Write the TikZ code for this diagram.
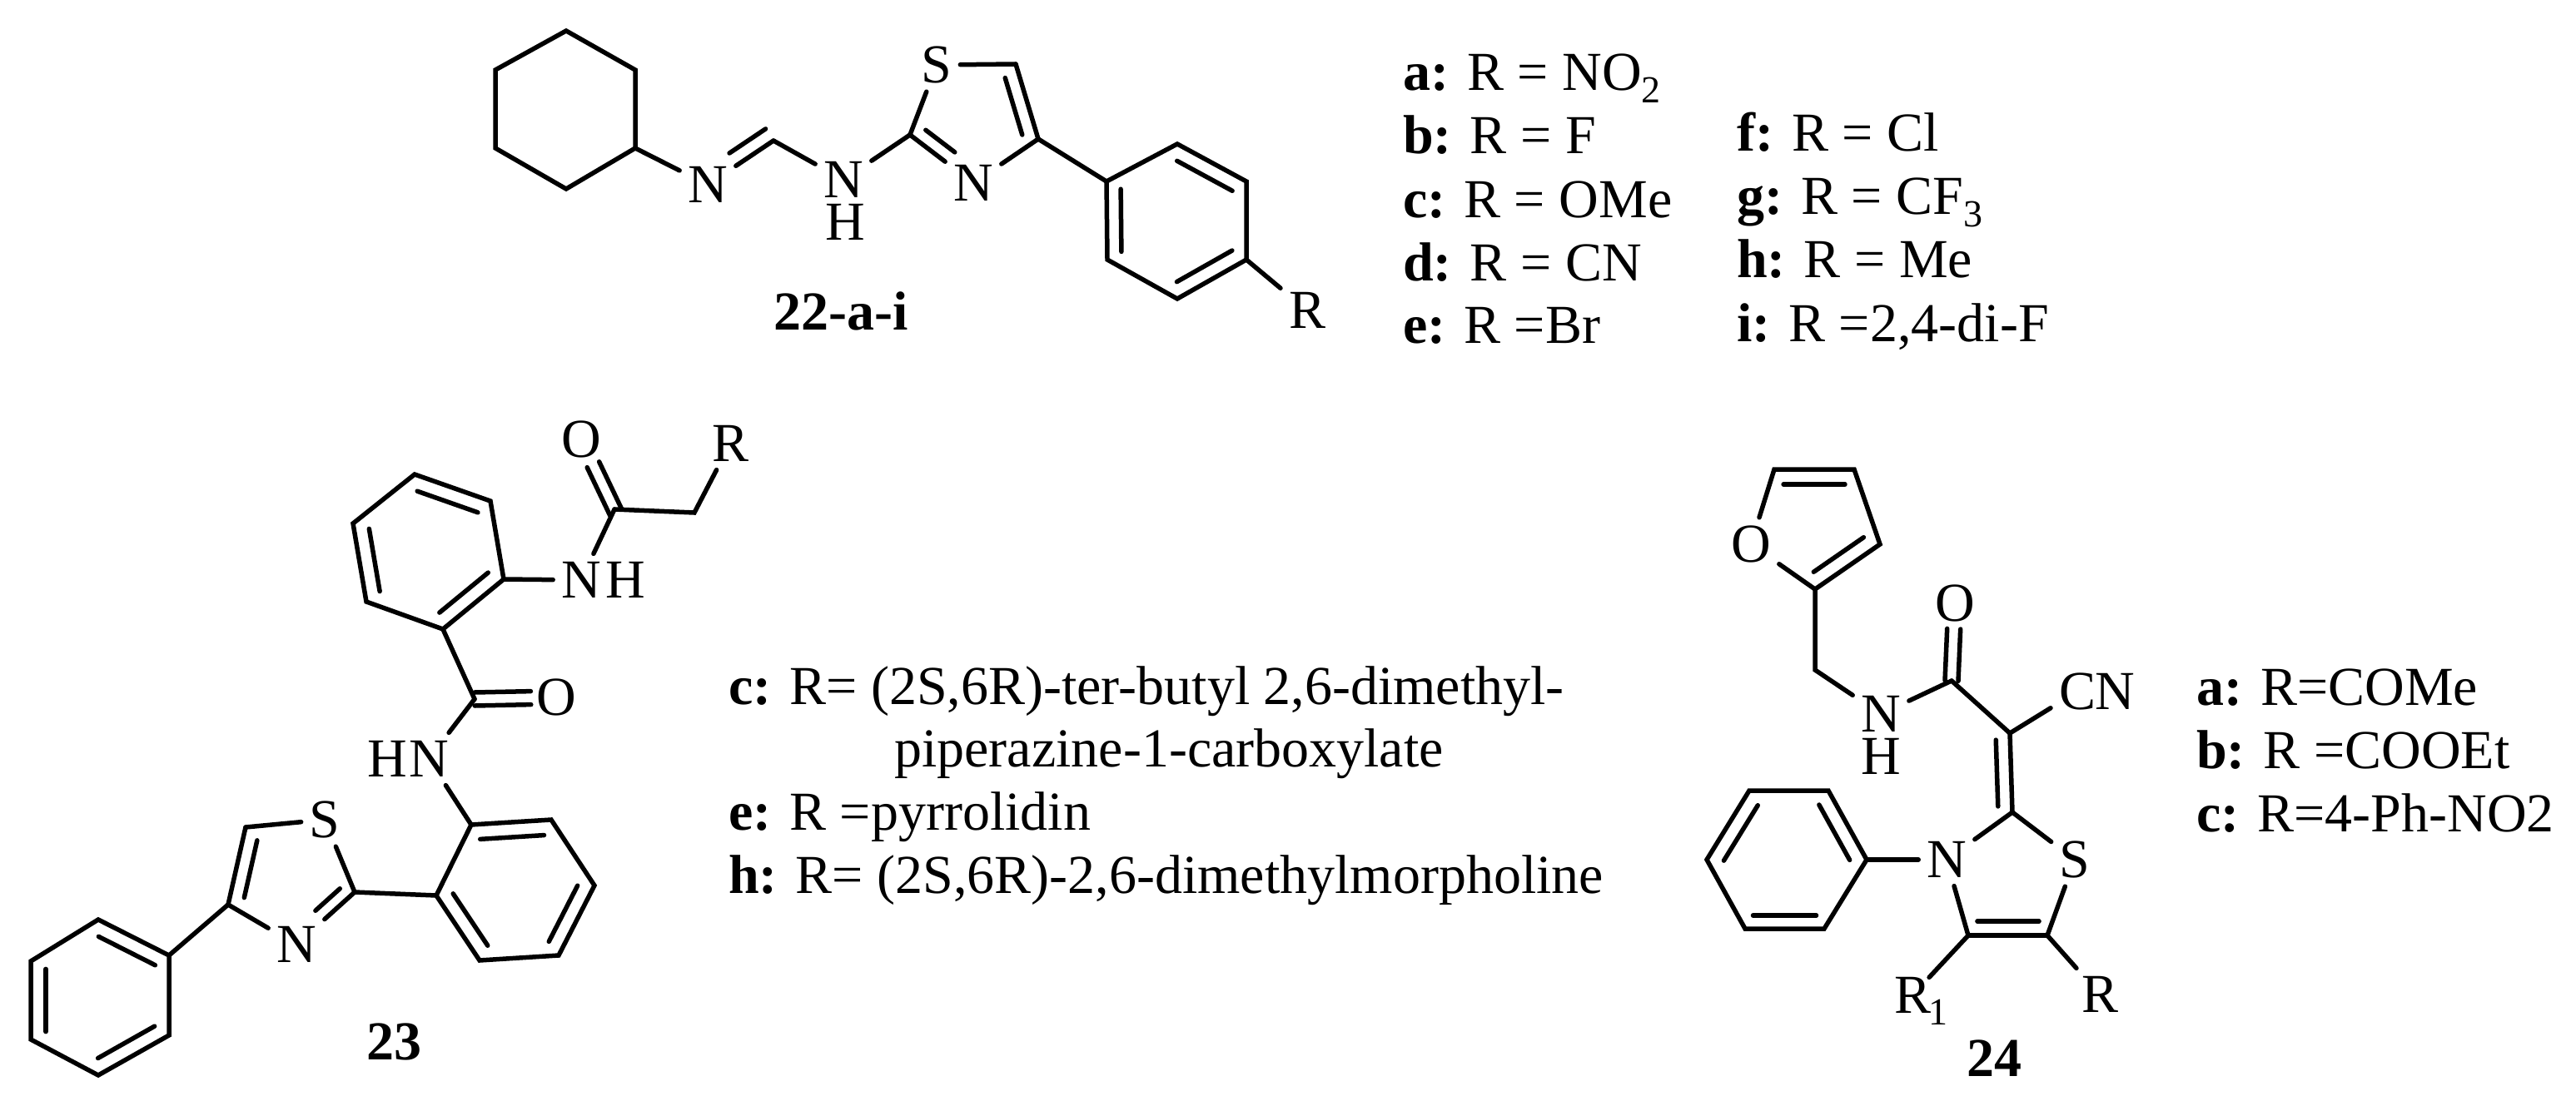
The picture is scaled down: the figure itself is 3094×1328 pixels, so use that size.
\documentclass[tikz,border=0pt]{standalone}
\usepackage{fontspec}
\setmainfont{Liberation Serif}
\usetikzlibrary{calc}
\tikzset{
  bond/.style={draw=black,line width=5.5pt,line cap=round,line join=miter},
  atom/.style={shape=rectangle,inner sep=10pt,outer sep=0pt,font=\fontsize{66}{72}\selectfont},
  tight/.style={atom,inner sep=0pt},
  txt/.style={anchor=base west,inner sep=0pt,font=\fontsize{66}{72}\selectfont},
  num/.style={anchor=base,inner sep=0pt,font=\fontsize{66}{72}\selectfont\bfseries},
}
\newcommand\inb[5]{\draw[bond] ($(#1)!#3!(#2)!#5pt!270:(#2)$) -- ($(#1)!#4!(#2)!#5pt!270:(#2)$);}
\newcommand\subs[1]{\raisebox{-15pt}{\fontsize{46}{50}\selectfont #1}}
\begin{document}
\begin{tikzpicture}[x=1pt,y=-1pt]
\useasboundingbox (0,0) rectangle (3094,1328);
\fill[white] (0,0) rectangle (3094,1328);
% ---------- 22
\coordinate (h1) at (680,37); \coordinate (h2) at (763,84); \coordinate (h3) at (763,178);
\coordinate (h4) at (680,227); \coordinate (h5) at (595,178); \coordinate (h6) at (595,84);
\draw[bond] (h1)--(h2)--(h3)--(h4)--(h5)--(h6)--cycle;
\node[atom] (An1) at (850,222) {N};
\node[atom] (An2) at (1013,216) {N};
\node[tight] (Ah) at (1015,267) {H};
\node[atom] (As) at (1125,78) {S};
\node[atom] (An3) at (1169,220) {N};
\node[atom] (Ar) at (1570,373) {R};
\coordinate (Ach) at (929,169); \coordinate (Ac2) at (1093,162);
\coordinate (Ac5) at (1220,77); \coordinate (Ac4) at (1247,167);
\coordinate (p1) at (1329,218); \coordinate (p2) at (1414,173); \coordinate (p3) at (1497,218);
\coordinate (p4) at (1497,312); \coordinate (p5) at (1414,359); \coordinate (p6) at (1330,312);
\draw[bond] (h3)--(An1);
\draw[bond] (An1)--(Ach);
\inb{Ach}{An1}{0}{.55}{17}
\draw[bond] (Ach)--(An2);
\draw[bond] (An2)--(Ac2);
\draw[bond] (Ac2)--(As);
\draw[bond] (As)--(Ac5);
\draw[bond] (Ac5)--(Ac4);
\inb{Ac5}{Ac4}{.13}{.89}{17}
\draw[bond] (Ac2)--(An3);
\inb{Ac2}{An3}{.12}{.58}{-16}
\draw[bond] (An3)--(Ac4);
\draw[bond] (Ac4)--(p1);
\draw[bond] (p1)--(p2)--(p3)--(p4)--(p5)--(p6)--cycle;
\inb{p2}{p3}{.1}{.9}{18}
\inb{p4}{p5}{.1}{.9}{18}
\inb{p6}{p1}{.1}{.9}{17}
\draw[bond] (p4)--(Ar);
\node[num] (L22) at (1010,396) {22-a-i};
% list 22
\node[txt] (la) at (1685,108) {\textbf{a:} R = NO\subs{2}};
\node[txt] (lb) at (1685,184) {\textbf{b:} R = F};
\node[txt] (lc) at (1685,261) {\textbf{c:} R = OMe};
\node[txt] (ld) at (1685,337) {\textbf{d:} R = CN};
\node[txt] (le) at (1685,412) {\textbf{e:} R =Br};
\node[txt] (lf) at (2086,181) {\textbf{f:} R = Cl};
\node[txt] (lg) at (2086,257) {\textbf{g:} R = CF\subs{3}};
\node[txt] (lh) at (2086,333) {\textbf{h:} R = Me};
\node[txt] (li) at (2086,410) {\textbf{i:} R =2,4-di-F};
% ---------- 23
\coordinate (a1) at (498,570); \coordinate (a2) at (589,602); \coordinate (a3) at (605,696);
\coordinate (a4) at (532,756); \coordinate (a5) at (440,723); \coordinate (a6) at (424,629);
\draw[bond] (a1)--(a2)--(a3)--(a4)--(a5)--(a6)--cycle;
\inb{a1}{a2}{.1}{.9}{18}
\inb{a3}{a4}{.1}{.9}{18}
\inb{a5}{a6}{.1}{.9}{18}
\node[atom] (Bn1) at (698,697) {N};
\node[tight] (Bh1) at (751,697) {H};
\node[atom] (Bo1) at (698,528) {O};
\node[atom] (Br) at (877,533) {R};
\coordinate (Bc1) at (738,612); \coordinate (Bc2) at (834,616);
\draw[bond] (a3)--(Bn1);
\draw[bond] (Bn1)--(Bc1);
\inb{Bc1}{Bo1}{-.03}{.64}{8}
\inb{Bc1}{Bo1}{-.05}{.64}{-8}
\draw[bond] (Bc1)--(Bc2)--(Br);
\coordinate (Bc3) at (570,840);
\node[atom] (Bo2) at (668,838) {O};
\node[atom] (Bn2) at (515,912) {N};
\node[tight] (Bh2) at (465,912) {H};
\draw[bond] (a4)--(Bc3);
\inb{Bc3}{Bo2}{0}{.69}{8}
\inb{Bc3}{Bo2}{0}{.69}{-8}
\draw[bond] (Bc3)--(Bn2);
\coordinate (b1) at (566,991); \coordinate (b2) at (662,985); \coordinate (b3) at (714,1064);
\coordinate (b4) at (671,1148); \coordinate (b5) at (576,1154); \coordinate (b6) at (524,1076);
\draw[bond] (b1)--(b2)--(b3)--(b4)--(b5)--(b6)--cycle;
\inb{b1}{b2}{.1}{.9}{18}
\inb{b3}{b4}{.1}{.9}{18}
\inb{b5}{b6}{.1}{.9}{18}
\draw[bond] (Bn2)--(b1);
\coordinate (Bt2) at (426,1072); \coordinate (Bt5) at (295,994); \coordinate (Bt4) at (274,1087);
\node[atom] (Bs) at (390,985) {S};
\node[atom] (Bn3) at (356,1135) {N};
\draw[bond] (b6)--(Bt2);
\draw[bond] (Bt2)--(Bs);
\draw[bond] (Bs)--(Bt5);
\draw[bond] (Bt5)--(Bt4);
\inb{Bt5}{Bt4}{.13}{.87}{-17}
\draw[bond] (Bt4)--(Bn3);
\draw[bond] (Bn3)--(Bt2);
\inb{Bt2}{Bn3}{.11}{.53}{15}
\coordinate (f1) at (203,1148); \coordinate (f2) at (203,1244); \coordinate (f3) at (118,1292);
\coordinate (f4) at (37,1249); \coordinate (f5) at (37,1155); \coordinate (f6) at (118,1105);
\draw[bond] (f1)--(f2)--(f3)--(f4)--(f5)--(f6)--cycle;
\inb{f6}{f1}{.1}{.9}{18}
\inb{f2}{f3}{.1}{.9}{18}
\inb{f4}{f5}{.1}{.9}{18}
\draw[bond] (Bt4)--(f1);
\node[num] (L23) at (473,1273) {23};
% list 23
\node[txt] (mc) at (875,846) {\textbf{c:} R= (2S,6R)-ter-butyl 2,6-dimethyl-};
\node[txt] (mc2) at (1074,921) {piperazine-1-carboxylate};
\node[txt] (me) at (875,997) {\textbf{e:} R =pyrrolidin};
\node[txt] (mh) at (875,1073) {\textbf{h:} R= (2S,6R)-2,6-dimethylmorpholine};
% ---------- 24
\node[atom] (Co) at (2103,654) {O};
\coordinate (g5) at (2131,564); \coordinate (g4) at (2227,564); \coordinate (g3) at (2258,654); \coordinate (g2) at (2180,708);
\draw[bond] (Co)--(g5)--(g4)--(g3)--(g2)--(Co);
\inb{g5}{g4}{.115}{.885}{18}
\inb{g3}{g2}{.12}{.89}{18}
\coordinate (Cch) at (2180,805);
\node[atom] (Cn1) at (2259,858) {N};
\node[tight] (Ch) at (2259,909) {H};
\draw[bond] (g2)--(Cch)--(Cn1);
\coordinate (Cc) at (2344,818);
\node[atom] (Co2) at (2348,725) {O};
\draw[bond] (Cn1)--(Cc);
\inb{Cc}{Co2}{0}{.67}{8}
\inb{Cc}{Co2}{0}{.67}{-8}
\coordinate (Ca) at (2414,881);
\node[atom] (Ccc) at (2495,831) {C};
\node[tight] (Ccn) at (2540,831) {N};
\draw[bond] (Cc)--(Ca);
\draw[bond] (Ca)--(Ccc);
\coordinate (Ct2) at (2417,976);
\draw[bond] (Ca)--(Ct2);
\inb{Ca}{Ct2}{.08}{.92}{17}
\node[atom] (Cn2) at (2338,1033) {N};
\node[atom] (Cs) at (2492,1033) {S};
\coordinate (Ct4) at (2364,1124); \coordinate (Ct5) at (2459,1124);
\draw[bond] (Ct2)--(Cn2);
\draw[bond] (Ct2)--(Cs);
\draw[bond] (Cn2)--(Ct4);
\draw[bond] (Cs)--(Ct5);
\draw[bond] (Ct4)--(Ct5);
\inb{Ct4}{Ct5}{.115}{.895}{-17}
\node[tight] (Cr1) at (2297,1196) {R};
\node[anchor=base west,inner sep=0pt,font=\fontsize{46}{50}\selectfont] (Cr1s) at (2316,1231) {1};
\node[atom] (Cr) at (2522,1195) {R};
\draw[bond] (Ct4)--(Cr1);
\draw[bond] (Ct5)--(Cr);
\coordinate (q1) at (2242,1033); \coordinate (q2) at (2191,1116); \coordinate (q3) at (2096,1116);
\coordinate (q4) at (2050,1033); \coordinate (q5) at (2101,950); \coordinate (q6) at (2196,950);
\draw[bond] (q1)--(q2)--(q3)--(q4)--(q5)--(q6)--cycle;
\inb{q6}{q1}{.1}{.9}{18}
\inb{q2}{q3}{.1}{.9}{16}
\inb{q4}{q5}{.1}{.9}{18}
\draw[bond] (q1)--(Cn2);
\node[num] (L24) at (2395,1293) {24};
% list 24
\node[txt] (ra) at (2638,847) {\textbf{a:} R=COMe};
\node[txt] (rb) at (2638,923) {\textbf{b:} R =COOEt};
\node[txt] (rc) at (2638,999) {\textbf{c:} R=4-Ph-NO2};
\end{tikzpicture}
\end{document}
